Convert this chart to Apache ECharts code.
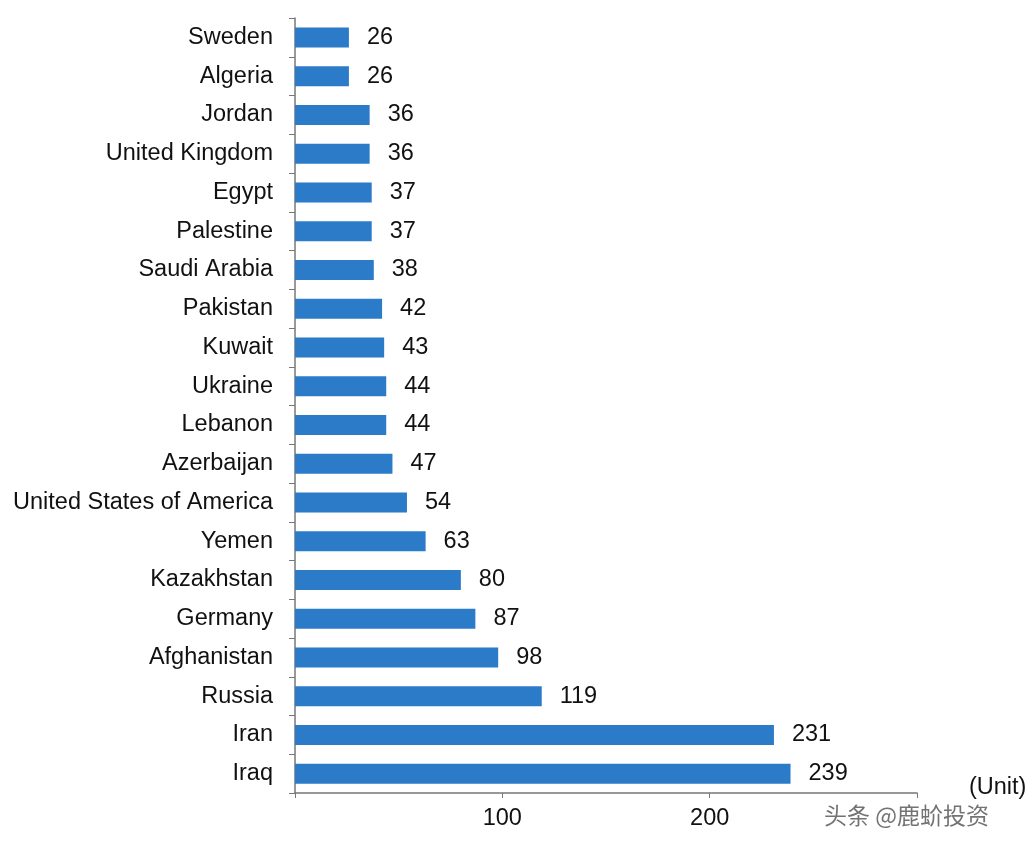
<!DOCTYPE html>
<html><head><meta charset="utf-8">
<script src="https://cdn.jsdelivr.net/npm/echarts@6/dist/echarts.min.js"></script>
<style>html,body{margin:0;padding:0;background:#fff}#c{width:1036px;height:852px}</style>
</head><body><div id="c"></div>
<script>
const categories = ["Iraq","Iran","Russia","Afghanistan","Germany","Kazakhstan","Yemen","United States of America","Azerbaijan","Lebanon","Ukraine","Kuwait","Pakistan","Saudi Arabia","Palestine","Egypt","United Kingdom","Jordan","Algeria","Sweden"];
const values = [239,231,119,98,87,80,63,54,47,44,44,43,42,38,37,37,36,36,26,26];
const tickLabels = {100:"100",200:"200"};

const FONT = 'Liberation Sans';
const FS = 23.5;
const chart = echarts.init(document.getElementById('c'));
chart.setOption({
  animation:false,
  backgroundColor:'#ffffff',
  grid:{left:295,right:119,top:18,bottom:59},
  xAxis:{type:'value',min:0,max:300,interval:100,
    axisLine:{show:true,lineStyle:{color:'#777',width:1.5}},
    axisTick:{show:true,length:5,lineStyle:{color:'#777'}},
    splitLine:{show:false},
    axisLabel:{fontFamily:FONT,fontSize:FS,color:'#111',margin:14,
      formatter:v=>tickLabels[v]||''},
    name:'(Unit)',nameLocation:'end',nameGap:0,
    nameTextStyle:{fontFamily:FONT,fontSize:FS,color:'#111',align:'left',verticalAlign:'bottom',padding:[0,0,-7,52]}
  },
  yAxis:{type:'category',data:categories,
    axisLine:{show:true,lineStyle:{color:'#777',width:1.5}},
    axisTick:{show:true,length:6,lineStyle:{color:'#777'}},
    axisLabel:{fontFamily:FONT,fontSize:FS,color:'#111',margin:22,padding:[2,0,0,0]}
  },
  series:[{type:'bar',data:values,barWidth:20,
    itemStyle:{color:'#2b7bc8'},
    label:{show:true,position:'right',distance:18,fontFamily:FONT,fontSize:FS,color:'#111',padding:[2,0,0,0]}
  }],
  graphic:[{type:'text',left:824,top:804,style:{text:'头条 @鹿蚧投资',fontFamily:'Noto Sans CJK SC',fontSize:23,fill:'#444',opacity:0.75}}]
});
</script></body></html>
